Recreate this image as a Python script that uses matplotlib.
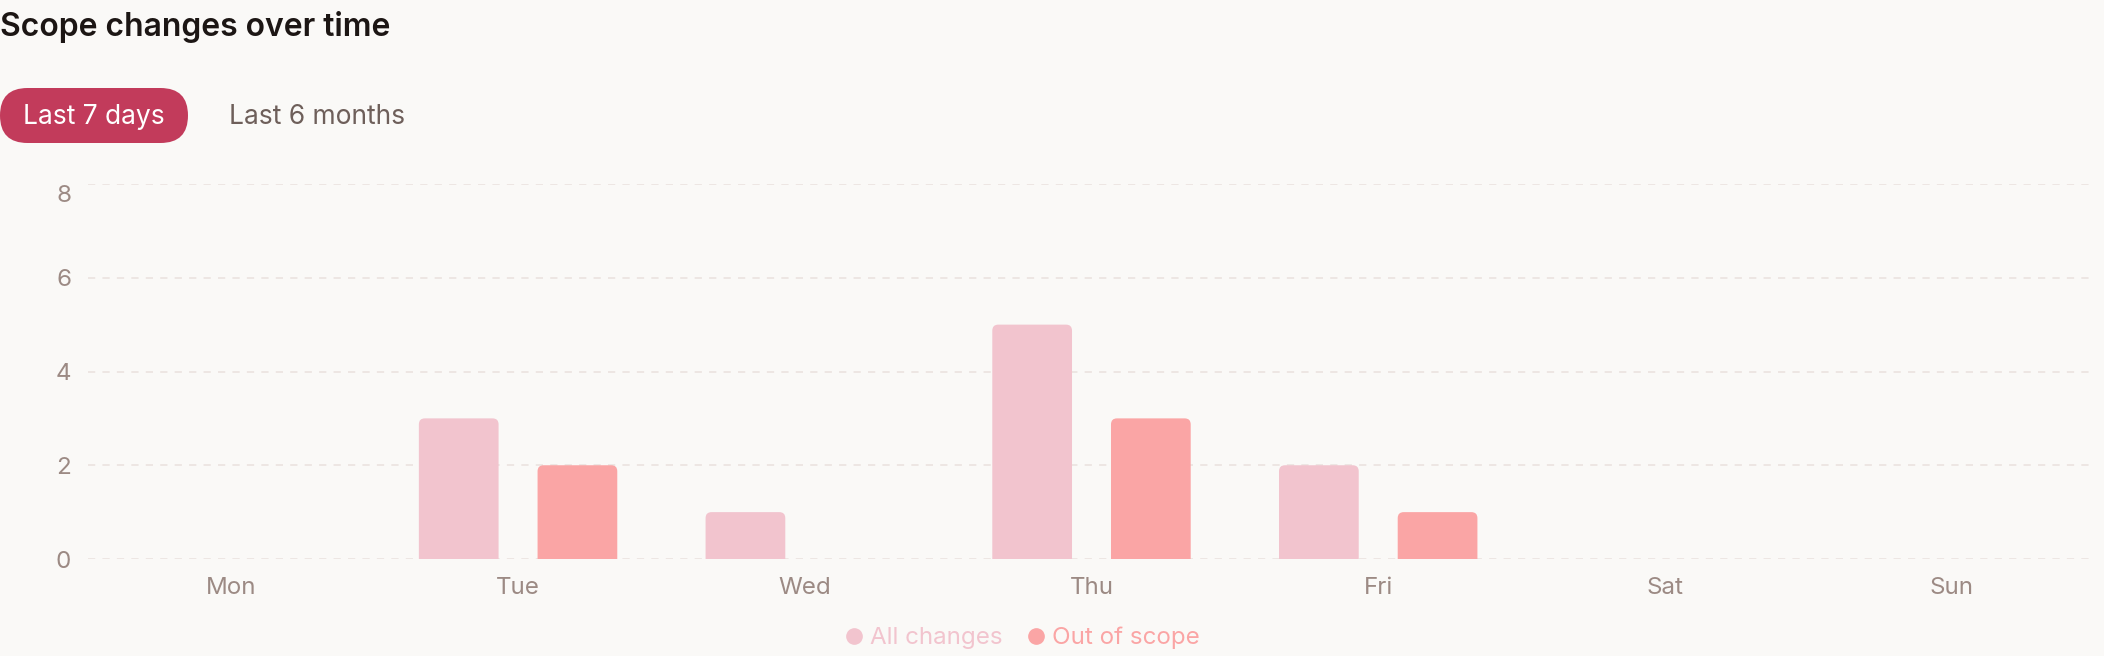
import numpy as np
import matplotlib.pyplot as plt
from matplotlib.patches import FancyBboxPatch
from matplotlib.transforms import IdentityTransform, offset_copy
from matplotlib.lines import Line2D

plt.rcParams['font.family'] = ['Inter', 'DejaVu Sans']

days = ['Mon', 'Tue', 'Wed', 'Thu', 'Fri', 'Sat', 'Sun']
all_changes = [0, 3, 1, 5, 2, 0, 0]
out_of_scope = [0, 2, 0, 3, 1, 0, 0]
series_names = ['All changes', 'Out of scope']
y_ticks = [0, 2, 4, 6, 8]

bg = '#faf9f7'
pink = '#f2c4ce'
salmon = '#faa5a5'
tick_col = '#9c8a84'
grid_col = '#ece5e1'

W, H = 2104, 656
fig = plt.figure(figsize=(W / 100, H / 100), dpi=100, facecolor=bg)
ax = fig.add_axes([88 / W, 97 / H, (2095 - 88) / W, 375 / H])
ax.set_facecolor(bg)

x = np.arange(len(days))
bw = 0.278
off = 0.207
bars1 = ax.bar(x - off, all_changes, bw, color=pink, zorder=2)
bars2 = ax.bar(x + off, out_of_scope, bw, color=salmon, zorder=2)

# swap each bar for a box with rounded top corners (bottom corners fall below 0 and get clipped)
px_x = (2095 - 88) / 7.0
px_y = 375 / 8.0
r = 6 / px_x
asp = px_x / px_y
for bars in (bars1, bars2):
    for b in bars:
        h = b.get_height()
        b.set_visible(False)
        if h <= 0:
            continue
        below = 3 * r * asp
        p = FancyBboxPatch((b.get_x(), -below), b.get_width(), h + below,
                           boxstyle=f'round,pad=0,rounding_size={r}',
                           mutation_aspect=asp, fc=b.get_facecolor(), ec='none', zorder=2)
        ax.add_patch(p)

ax.set_xlim(-0.5, 6.5)
ax.set_ylim(0, 8)
ax.set_xticks(x)
ax.set_xticklabels(days)
ax.set_yticks(y_ticks)
ax.set_yticklabels([str(v) for v in y_ticks])
ax.tick_params(length=0, labelsize=17.4, labelcolor=tick_col)
ax.tick_params(axis='x', pad=13)
ax.tick_params(axis='y', pad=12)
for lbl in ax.get_yticklabels():
    if lbl.get_text() == '8':
        lbl.set_transform(offset_copy(lbl.get_transform(), fig=fig, y=-10, units='dots'))
ax.grid(axis='y', color=grid_col, linestyle=(0, (4, 4)), linewidth=1.3, zorder=0)
for s in ax.spines.values():
    s.set_visible(False)

# header
fig.text(0, (H - 36) / H, 'Scope changes over time', fontsize=23,
         fontweight='semibold', color='#1c1614', va='baseline', ha='left')
fig.add_artist(FancyBboxPatch((0, H - 143), 188, 55,
                              boxstyle='round,pad=0,rounding_size=27.5',
                              transform=IdentityTransform(), fc='#c23b5b', ec='none'))
fig.text(94 / W, (H - 124) / H, 'Last 7 days', fontsize=19, color='white',
         ha='center', va='baseline')
fig.text(229 / W, (H - 124) / H, 'Last 6 months', fontsize=19, color='#6e5f5a',
         ha='left', va='baseline')

handles = [Line2D([], [], marker='o', ls='none', color=c, markersize=11)
           for c in (pink, salmon)]
leg = fig.legend(handles, series_names, loc='center', bbox_to_anchor=(1021 / W, (H - 638) / H),
                 ncol=2, frameon=False, fontsize=17.4, handletextpad=0.15,
                 columnspacing=0.9, handlelength=1.0)
for t, c in zip(leg.get_texts(), (pink, salmon)):
    t.set_color(c)

fig.savefig('out.png', dpi=100, facecolor=bg)
